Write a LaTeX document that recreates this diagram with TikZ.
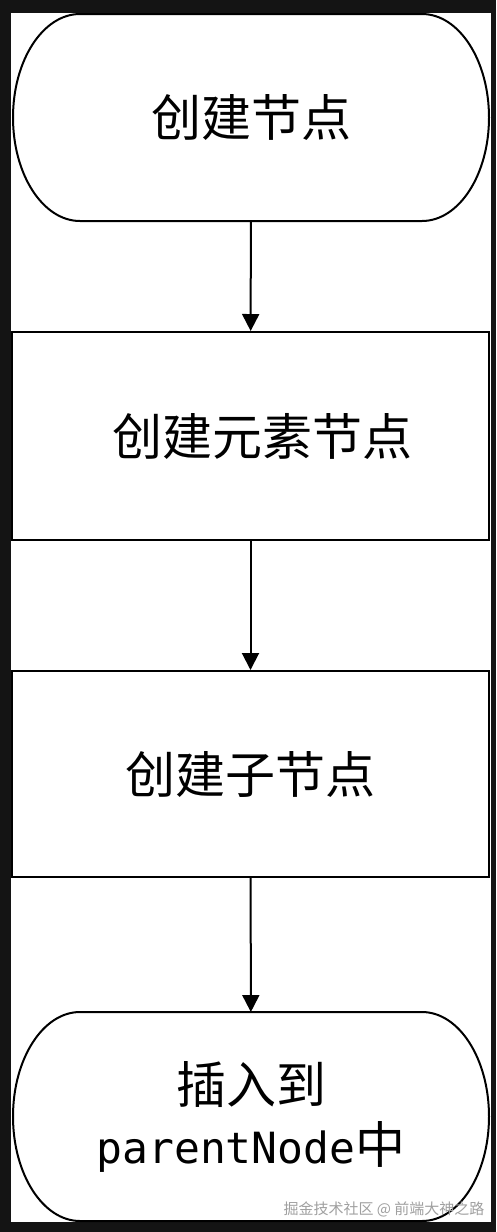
\documentclass[tikz,border=0pt]{standalone}
\usepackage{fontspec}
\usepackage{xcolor}
\usepackage{tikz}
\usetikzlibrary{arrows.meta,calc}
\newfontfamily\cjk{Noto Sans CJK SC}
\newfontfamily\codefont{DejaVu Sans Mono}
\definecolor{bgdark}{RGB}{20,20,20}
\definecolor{wmark}{RGB}{160,160,160}
% outline of a start/end box: straight top and bottom, half-ellipse ends
\newcommand{\termoutline}[2]{%
  \draw[line width=2pt] ($(#1.north west)+(67pt,0)$) -- ($(#1.north east)+(-67pt,0)$)
    arc[start angle=90,end angle=-90,x radius=67pt,y radius=#2]
    -- ($(#1.south west)+(67pt,0)$)
    arc[start angle=270,end angle=90,x radius=67pt,y radius=#2] -- cycle;}

\begin{document}
\begin{tikzpicture}[x=1pt,y=1pt,
  stepbox/.style={draw,line width=2pt,minimum width=477pt,inner sep=0pt,
    font=\cjk\fontsize{50}{60}\selectfont},
  termbox/.style={minimum width=476pt,inner sep=0pt,outer sep=0pt,align=center,
    font=\cjk\fontsize{50}{60}\selectfont},
  flow/.style={line width=2pt,-{Triangle[width=17pt,length=17pt]}}]
% ---- page: dark surround, white sheet ----
\fill[bgdark] (0,0) rectangle (496,-1232);
\useasboundingbox (0,0) rectangle (496,-1232);
\fill[white] (11,-13) rectangle (491,-1222);
% ---- steps, top to bottom ----
\node[termbox,minimum height=207pt] (start) at (251,-117.5) {创建节点};
\termoutline{start}{103.5pt}
\node[stepbox,minimum height=208pt] (elem) at (250.5,-436) {\hspace*{24pt}创建元素节点};
\node[stepbox,minimum height=206pt] (child) at (250.5,-774) {创建子节点};
\node[termbox,minimum height=209pt] (insert) at (251,-1116.5)
  {插入到\\{\codefont\fontsize{43}{60}\selectfont parentNode}中};
\termoutline{insert}{104.5pt}
% ---- connectors ----
\draw[flow] (start) -- (elem);
\draw[flow] (elem) -- (child);
\draw[flow] (child) -- (insert);
% ---- watermark ----
\node[font=\cjk\fontsize{15}{15}\selectfont,text=wmark] (wmk) at (384,-1209)
  {掘金技术社区 @ 前端大神之路};
\end{tikzpicture}
\end{document}
